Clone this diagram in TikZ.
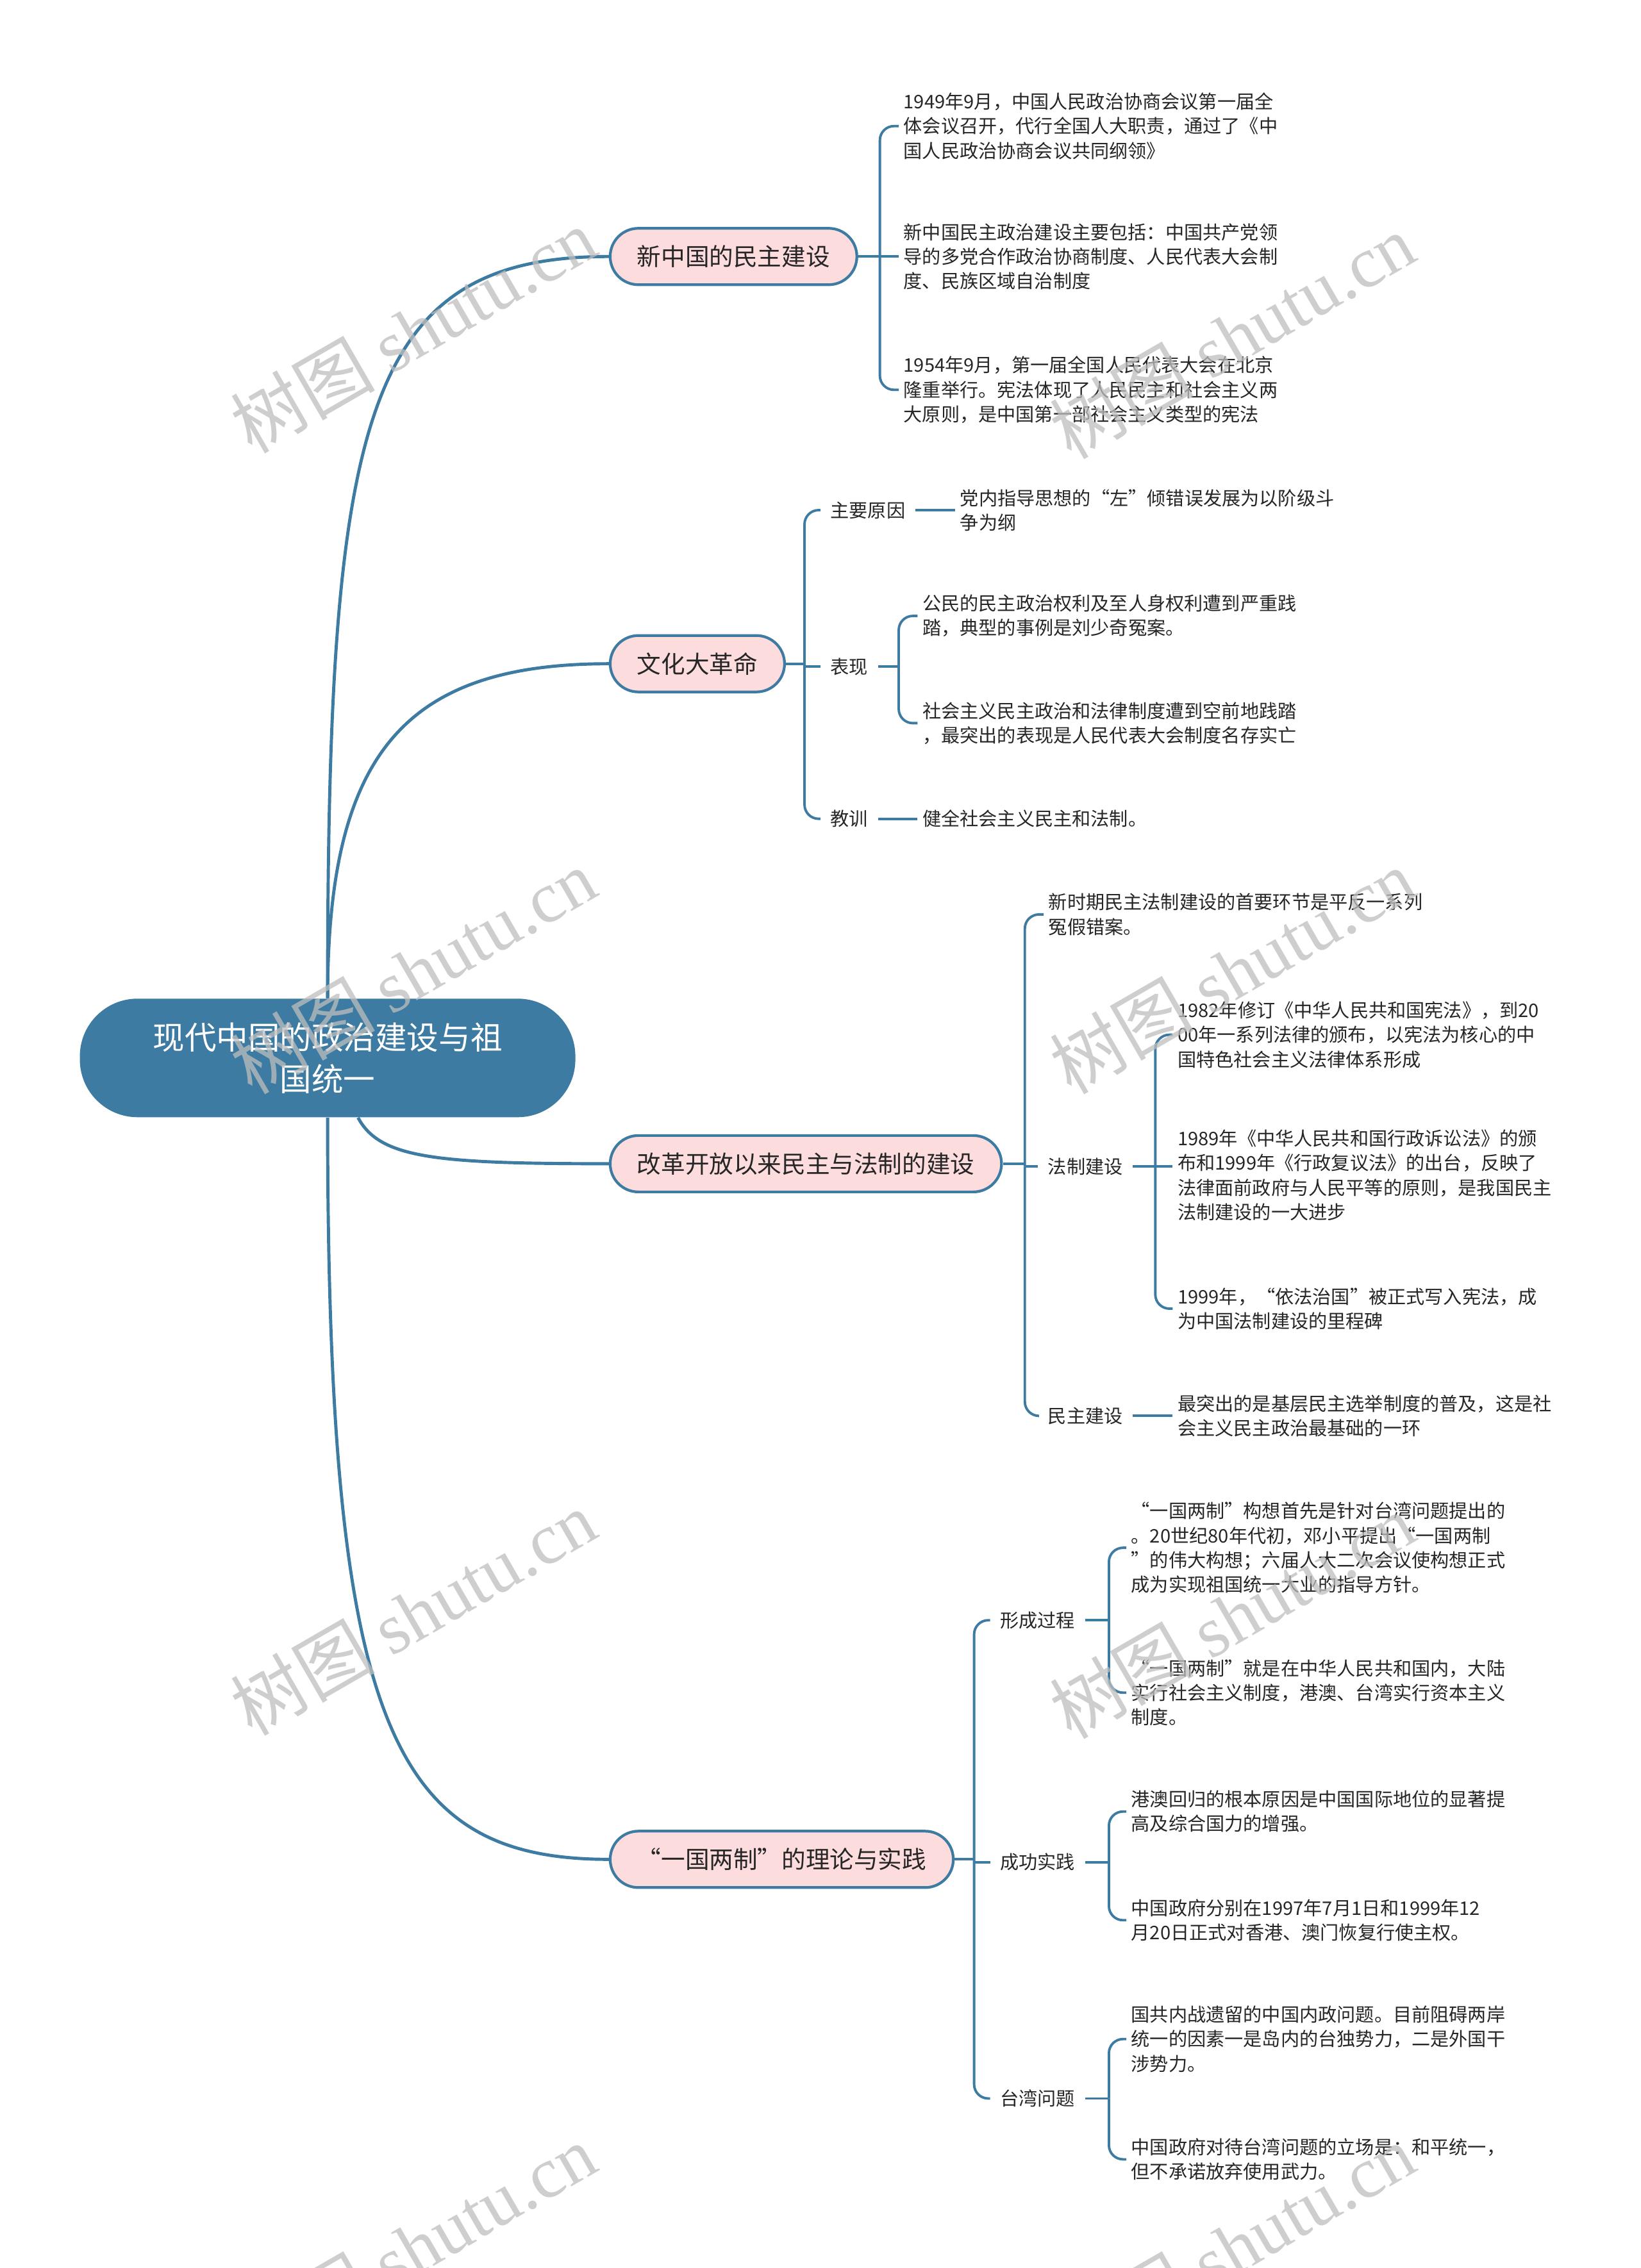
\documentclass[tikz,border=0pt]{standalone}
\usepackage{fontspec}
\setmainfont{Noto Sans CJK SC}
\newfontfamily\wmlatin{Liberation Serif}
\usetikzlibrary{positioning}
\definecolor{Primary}{HTML}{3D7BA2}
\definecolor{Secondary}{HTML}{FCDCDC}
\definecolor{Shade}{HTML}{BEBEBE}
\tikzset{
style0/.style= {rectangle, rounded corners=0.9cm, fill=Primary, text=white, align=center, minimum width=7.73cm, minimum height=1.85cm, font=\fontsize{14.1pt}{18.6pt}\selectfont},
style1/.style= {rectangle, rounded corners=0.44cm, draw=Primary, line width=1.2pt, fill=Secondary, minimum height=0.88cm, inner xsep=0.42cm, anchor=west, text=black!85, font=\fontsize{10.7pt}{13pt}\selectfont},
style2/.style= {inner xsep=0.15cm, inner ysep=0.05cm, anchor=west, text=black!85, font=\fontsize{8.3pt}{10.9pt}\selectfont},
style3/.style= {inner xsep=0.07cm, inner ysep=0.05cm, anchor=west, align=left, text=black!85, font=\fontsize{8.3pt}{10.9pt}\selectfont},
link/.style= {draw=Primary, line width=1.4pt},
spine/.style= {draw=Primary, line width=1.1pt, rounded corners=0.22cm},
wmark/.style= {rotate=30, text=Shade, text opacity=0.75, inner sep=0pt, font=\fontsize{32pt}{33pt}\selectfont}
}

\begin{document}
\begin{tikzpicture}[x=0.022615cm, y=-0.022615cm]
    \fill[white] (0,0) rectangle (1132,1565);
    \useasboundingbox (0,0) rectangle (1132,1565);

    \node[style0] (root) at (226,730) {现代中国的政治建设与祖\\国统一};

    \node[style1] (demo) at (420,177) {新中国的民主建设};
    \node[style1] (wenge) at (420,458) {文化大革命};
    \node[style1] (gaige) at (420,803) {改革开放以来民主与法制的建设};
    \node[style1] (yiguo) at (420,1283) {“一国两制”的理论与实践};

    \draw[link] (root.north) .. controls +(0,-400) and +(-170,0) .. (demo.west);
    \draw[link] (root.north) .. controls +(0,-170) and +(-140,0) .. (wenge.west);
    \draw[link] (root.-63) .. controls +(15,28) and +(-120,0) .. (gaige.west);
    \draw[link] (root.south) .. controls +(0,420) and +(-150,0) .. (yiguo.west);

    % 新中国的民主建设
    \node[style3] (demo1) at (620,87) {1949年9月，中国人民政治协商会议第一届全\\体会议召开，代行全国人大职责，通过了《中\\国人民政治协商会议共同纲领》};
    \node[style3] (demo2) at (620,177) {新中国民主政治建设主要包括：中国共产党领\\导的多党合作政治协商制度、人民代表大会制\\度、民族区域自治制度};
    \node[style3] (demo3) at (620,269) {1954年9月，第一届全国人民代表大会在北京\\隆重举行。宪法体现了人民民主和社会主义两\\大原则，是中国第一部社会主义类型的宪法};

    \coordinate (s1) at (607,177);
    \draw[spine] (demo.east) -- (s1) -- (s1 -| demo2.west);
    \foreach \n in {demo1,demo3} \draw[spine] (s1) |- (\n.west);

    % 文化大革命
    \node[style2] (cause) at (566,352) {主要原因};
    \node[style2] (shows) at (566,460) {表现};
    \node[style2] (lesson) at (566,565) {教训};
    \node[style3] (cause1) at (659,352) {党内指导思想的“左”倾错误发展为以阶级斗\\争为纲};
    \node[style3] (shows1) at (633,425) {公民的民主政治权利及至人身权利遭到严重践\\踏，典型的事例是刘少奇冤案。};
    \node[style3] (shows2) at (633,499) {社会主义民主政治和法律制度遭到空前地践踏\\，最突出的表现是人民代表大会制度名存实亡};
    \node[style3] (lesson1) at (633,565) {健全社会主义民主和法制。};

    \coordinate (s2) at (555,460);
    \draw[spine] (wenge.east) -- (wenge.east -| s2);
    \draw[spine] (s2) -- (shows.west);
    \foreach \n in {cause,lesson} \draw[spine] (s2) |- (\n.west);
    \coordinate (s22) at (620,460);
    \draw[spine] (shows.east) -- (s22);
    \foreach \n in {shows1,shows2} \draw[spine] (s22) |- (\n.west);
    \draw[spine] (cause.east) -- (cause1.west);
    \draw[spine] (lesson.east) -- (lesson1.west);

    % 改革开放以来民主与法制的建设
    \node[style3] (gaige1) at (720,631) {新时期民主法制建设的首要环节是平反一系列\\冤假错案。};
    \node[style2] (fazhi) at (716,805) {法制建设};
    \node[style2] (minzhu) at (716,977) {民主建设};
    \node[style3] (fazhi1) at (809,714) {1982年修订《中华人民共和国宪法》，到20\\00年一系列法律的颁布，以宪法为核心的中\\国特色社会主义法律体系形成};
    \node[style3] (fazhi2) at (809,811) {1989年《中华人民共和国行政诉讼法》的颁\\布和1999年《行政复议法》的出台，反映了\\法律面前政府与人民平等的原则，是我国民主\\法制建设的一大进步};
    \node[style3] (fazhi3) at (809,903) {1999年，“依法治国”被正式写入宪法，成\\为中国法制建设的里程碑};
    \node[style3] (minzhu1) at (809,977) {最突出的是基层民主选举制度的普及，这是社\\会主义民主政治最基础的一环};

    \coordinate (s3) at (707,805);
    \draw[spine] (gaige.east) -- (gaige.east -| s3);
    \draw[spine] (s3) -- (fazhi.west);
    \foreach \n in {gaige1,minzhu} \draw[spine] (s3) |- (\n.west);
    \coordinate (s31) at (797,805);
    \draw[spine] (fazhi.east) -- (s31) -- (s31 -| fazhi2.west);
    \foreach \n in {fazhi1,fazhi3} \draw[spine] (s31) |- (\n.west);
    \draw[spine] (minzhu.east) -- (minzhu1.west);

    % “一国两制”的理论与实践
    \node[style2] (xingcheng) at (683,1118) {形成过程};
    \node[style2] (chenggong) at (683,1285) {成功实践};
    \node[style2] (taiwan) at (683,1448) {台湾问题};
    \node[style3] (xingcheng1) at (777,1068) {“一国两制”构想首先是针对台湾问题提出的\\。20世纪80年代初，邓小平提出“一国两制\\”的伟大构想；六届人大二次会议使构想正式\\成为实现祖国统一大业的指导方针。};
    \node[style3] (xingcheng2) at (777,1168) {“一国两制”就是在中华人民共和国内，大陆\\实行社会主义制度，港澳、台湾实行资本主义\\制度。};
    \node[style3] (chenggong1) at (777,1250) {港澳回归的根本原因是中国国际地位的显著提\\高及综合国力的增强。};
    \node[style3] (chenggong2) at (777,1325) {中国政府分别在1997年7月1日和1999年12\\月20日正式对香港、澳门恢复行使主权。};
    \node[style3] (taiwan1) at (777,1407) {国共内战遗留的中国内政问题。目前阻碍两岸\\统一的因素一是岛内的台独势力，二是外国干\\涉势力。};
    \node[style3] (taiwan2) at (777,1490) {中国政府对待台湾问题的立场是：和平统一，\\但不承诺放弃使用武力。};

    \coordinate (s4) at (672,1285);
    \draw[spine] (yiguo.east) -- (yiguo.east -| s4);
    \draw[spine] (s4) -- (chenggong.west);
    \foreach \n in {xingcheng,taiwan} \draw[spine] (s4) |- (\n.west);
    \coordinate (s41) at (765,1118);
    \draw[spine] (xingcheng.east) -- (s41);
    \foreach \n in {xingcheng1,xingcheng2} \draw[spine] (s41) |- (\n.west);
    \coordinate (s42) at (765,1285);
    \draw[spine] (chenggong.east) -- (s42);
    \foreach \n in {chenggong1,chenggong2} \draw[spine] (s42) |- (\n.west);
    \coordinate (s43) at (765,1448);
    \draw[spine] (taiwan.east) -- (s43);
    \foreach \n in {taiwan1,taiwan2} \draw[spine] (s43) |- (\n.west);

    % watermark
    \foreach \wx/\wy [count=\i] in {285/228,850/232,285/670,850/670,285/1113,850/1115,285/1550,850/1550}
        \node[wmark] (wm\i) at (\wx,\wy) {树图 {\wmlatin shutu.cn}};
\end{tikzpicture}
\end{document}
